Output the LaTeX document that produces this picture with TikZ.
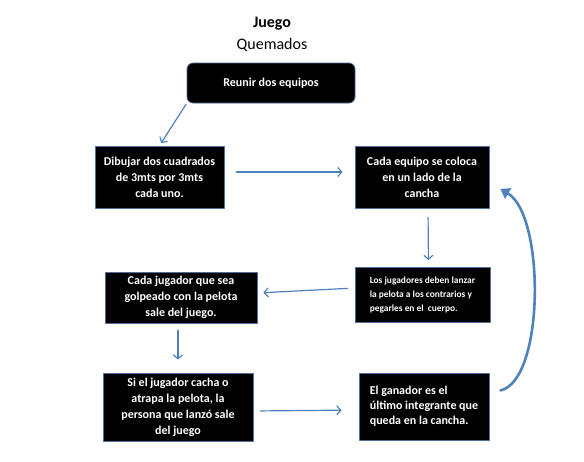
\documentclass[tikz,border=0pt]{standalone}
\usepackage{fontspec}
\setmainfont{Carlito}
\usetikzlibrary{arrows.meta}
\definecolor{flechaazul}{RGB}{79,129,189}
\definecolor{bordeazul}{RGB}{80,110,150}

\begin{document}
\begin{tikzpicture}[x=1pt,y=-1pt,line cap=round,line join=round,
    caja/.style={draw=bordeazul,line width=0.8pt,fill=black,text=white,inner sep=0pt,
      font=\bfseries\fontsize{12}{16}\selectfont,align=center},
    flecha/.style={draw=flechaazul,line width=1.2pt,-{Straight Barb[length=4pt,width=9pt]}},
    vuelta/.style={draw=flechaazul,line width=2.6pt,-{Triangle[length=9pt,width=12pt]}}]
        \useasboundingbox (0,0) rectangle (584,461);

        \node[font=\bfseries\fontsize{16}{18}\selectfont] (juego) at (272,24) {Juego};
        \node[font=\fontsize{16}{18}\selectfont] (quemados) at (272,45) {Quemados};

        \node[caja,rounded corners=6pt,minimum width=168pt,minimum height=40pt] (reunir) at (271,83) {Reunir dos equipos};
        \node[caja,minimum width=129pt,minimum height=62pt] (dibujar) at (159.5,177) {Dibujar dos cuadrados\\de 3mts por 3mts\\cada uno.};
        \node[caja,minimum width=134pt,minimum height=62pt] (equipo) at (422,177) {Cada equipo se coloca\\en un lado de la\\cancha};
        \node[caja,minimum width=135pt,minimum height=55pt,align=left,
          font=\bfseries\fontsize{9.4}{14}\selectfont] (lanzar) at (422.5,295) {Los jugadores deben lanzar\\la pelota a los contrarios y\\pegarles en el \ cuerpo.};
        \node[caja,minimum width=152pt,minimum height=51pt] (golpe) at (181,297.5) {Cada jugador que sea\\golpeado con la pelota\\sale del juego.};
        \node[caja,minimum width=150pt,minimum height=68pt] (atrapa) at (178,407) {Si el jugador cacha o\\atrapa la pelota, la\\persona que lanzó sale\\del juego};
        \node[caja,minimum width=130pt,minimum height=67pt,align=left,
          font=\bfseries\fontsize{12}{15}\selectfont] (ganador) at (424,406.5) {El ganador es el\\último integrante que\\queda en la cancha.};

        \draw[flecha,shorten <=1pt,shorten >=3pt] (reunir.south west) -- (dibujar.north);
        \draw[flecha,shorten <=12pt,shorten >=12pt] ([yshift=5pt]dibujar.east) -- ([yshift=5pt]equipo.west);
        \draw[flecha,shorten <=9pt,shorten >=7pt] ([xshift=6pt]equipo.south) -- ([xshift=6pt]lanzar.north);
        \draw[flecha,shorten <=7pt,shorten >=6pt] ([yshift=7pt]lanzar.west) -- ([yshift=4.5pt]golpe.east);
        \draw[flecha,shorten <=7pt,shorten >=13pt] ([xshift=-3pt]golpe.south) -- (atrapa.north);
        \draw[flecha,shorten <=7pt,shorten >=17pt] ([yshift=-4pt]atrapa.east) -- ([yshift=-3.5pt]ganador.west);
        \draw[vuelta] ([xshift=11pt,yshift=16pt]ganador.east) .. controls (545,380) and (545,215) .. ([xshift=11pt,yshift=-12pt]equipo.east);
\end{tikzpicture}
\end{document}
